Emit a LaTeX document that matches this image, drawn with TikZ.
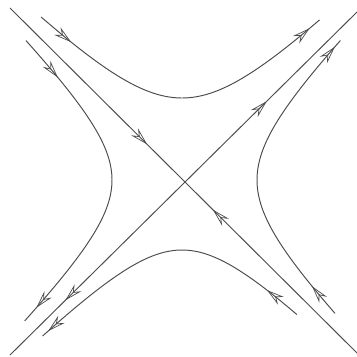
\documentclass[tikz,border=0pt]{standalone}
\usetikzlibrary{arrows.meta,decorations.markings}

\tikzset{
  orbit/.style={line width=0.55pt, black!70},
  fwd/.style={postaction={decorate, decoration={markings,
      mark=at position #1 with {\arrow[line width=0.4pt]{Stealth[open, length=10pt, width=5.5pt, inset=3.5pt]}}}}},
  bwd/.style={postaction={decorate, decoration={markings,
      mark=at position #1 with {\arrowreversed[line width=0.4pt]{Stealth[open, length=10pt, width=5.5pt, inset=3.5pt]}}}}}
}

\begin{document}
\begin{tikzpicture}[x=2cm, y=2cm]
    \useasboundingbox (-1.82,-1.76) rectangle (1.75,1.80);
    % separatrices
    \draw[orbit, fwd=0.395, bwd=0.585] (-1.72,1.72) -- (1.75,-1.73);
    \draw[orbit, fwd=0.74, bwd=0.16] (-1.72,-1.75) -- (1.75,1.68);
    % top
    \draw[orbit, fwd=0.12, fwd=0.96] plot[domain=-1.31:1.29, samples=80]
        ({0.41*(exp(\x)-exp(0-\x))}, {0.41*(exp(\x)+exp(0-\x))});
    % left
    \draw[orbit, fwd=0.145, fwd=0.947] plot[domain=1.44:-1.45, samples=80]
        ({-0.35*(exp(\x)+exp(0-\x))}, {0.35*(exp(\x)-exp(0-\x))});
    % right
    \draw[orbit, fwd=0.11, fwd=0.974] plot[domain=-1.34:1.38, samples=80]
        ({0.375*(exp(\x)+exp(0-\x))}, {0.375*(exp(\x)-exp(0-\x))});
    % bottom
    \draw[orbit, fwd=0.128, fwd=0.975] plot[domain=1.27:-1.44, samples=80]
        ({0.35*(exp(\x)-exp(0-\x))}, {-0.35*(exp(\x)+exp(0-\x))});
\end{tikzpicture}
\end{document}
